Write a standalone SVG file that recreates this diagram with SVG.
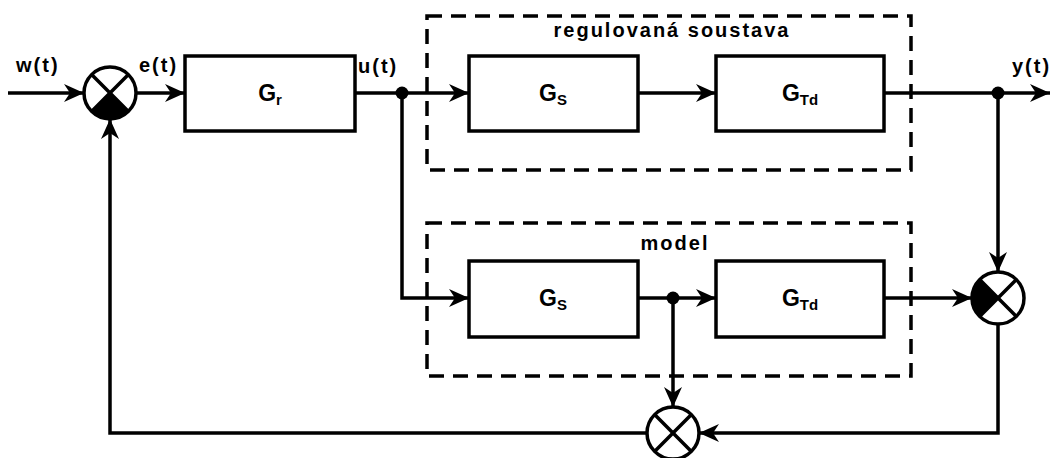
<svg xmlns="http://www.w3.org/2000/svg" width="1052" height="458" viewBox="0 0 1052 458">
<style>
.ln{fill:none;stroke:#000;stroke-width:3.5}
.blk{fill:#fff;stroke:#000;stroke-width:3.5}
.dash{fill:none;stroke:#000;stroke-width:3.5;stroke-dasharray:15 9}
.t{font-family:"Liberation Sans",Arial,sans-serif;font-weight:bold;font-size:20px;letter-spacing:2px;fill:#000}
.g{font-family:"Liberation Sans",Arial,sans-serif;font-weight:bold;font-size:23px;fill:#000;text-anchor:middle}
.sub{font-size:15px}
.dot{fill:#000}
</style>
<defs>
<marker id="ar" markerWidth="22" markerHeight="20" refX="20" refY="9" orient="auto" markerUnits="userSpaceOnUse">
<path d="M0,0 L20,9 L0,18 L6,9 Z" fill="#000"/>
</marker>
</defs>
<g id="group-top">
<rect class="dash" x="427" y="16" width="484" height="154"/>
<text class="t" x="672" y="37" text-anchor="middle">regulovaná soustava</text>
</g>
<g id="group-model">
<rect class="dash" x="427" y="223" width="484" height="153"/>
<text class="t" x="675" y="250" text-anchor="middle">model</text>
</g>
<g id="connectors">
<path class="ln" d="M8,93 H84" marker-end="url(#ar)"/>
<path class="ln" d="M136,93 H185" marker-end="url(#ar)"/>
<path class="ln" d="M355,93 H469" marker-end="url(#ar)"/>
<path class="ln" d="M638,93 H716" marker-end="url(#ar)"/>
<path class="ln" d="M884,93 H1050" marker-end="url(#ar)"/>
<path class="ln" d="M998,93 V272" marker-end="url(#ar)"/>
<path class="ln" d="M402,93 V298 H469" marker-end="url(#ar)"/>
<path class="ln" d="M638,298 H716" marker-end="url(#ar)"/>
<path class="ln" d="M884,298 H972" marker-end="url(#ar)"/>
<path class="ln" d="M673,298 V407" marker-end="url(#ar)"/>
<path class="ln" d="M998,324 V433 H699" marker-end="url(#ar)"/>
<path class="ln" d="M647,433 H110 V119" marker-end="url(#ar)"/>
<circle class="dot" cx="402" cy="93" r="6.5"/>
<circle class="dot" cx="998" cy="93" r="6.5"/>
<circle class="dot" cx="673" cy="298" r="6.5"/>
</g>
<g id="sum1">
<circle class="blk" cx="110" cy="93" r="26"/>
<path d="M110,93 L91.6,111.4 A26,26 0 0 0 128.4,111.4 Z" fill="#000"/>
<path class="ln" d="M91.6,74.6 L128.4,111.4 M128.4,74.6 L91.6,111.4"/>
</g>
<g id="sum2">
<circle class="blk" cx="998" cy="298" r="26"/>
<path d="M998,298 L979.6,279.6 A26,26 0 0 0 979.6,316.4 Z" fill="#000"/>
<path class="ln" d="M979.6,279.6 L1016.4,316.4 M1016.4,279.6 L979.6,316.4"/>
</g>
<g id="sum3">
<circle class="blk" cx="673" cy="433" r="26"/>
<path class="ln" d="M654.6,414.6 L691.4,451.4 M691.4,414.6 L654.6,451.4"/>
</g>
<g id="Gr">
<rect class="blk" x="185" y="56" width="170" height="75"/>
<text class="g" x="270" y="101">G<tspan class="sub" dy="4">r</tspan></text>
</g>
<g id="Gs1">
<rect class="blk" x="469" y="56" width="169" height="75"/>
<text class="g" x="553" y="101">G<tspan class="sub" dy="4">S</tspan></text>
</g>
<g id="GTd1">
<rect class="blk" x="716" y="56" width="168" height="75"/>
<text class="g" x="800" y="101">G<tspan class="sub" dy="4">Td</tspan></text>
</g>
<g id="Gs2">
<rect class="blk" x="469" y="261" width="169" height="76"/>
<text class="g" x="553" y="306">G<tspan class="sub" dy="4">S</tspan></text>
</g>
<g id="GTd2">
<rect class="blk" x="716" y="261" width="168" height="76"/>
<text class="g" x="800" y="306">G<tspan class="sub" dy="4">Td</tspan></text>
</g>
<g id="labels">
<text class="t" x="16" y="72">w(t)</text>
<text class="t" x="139" y="72">e(t)</text>
<text class="t" x="358" y="73">u(t)</text>
<text class="t" x="1012" y="73">y(t)</text>
</g>
</svg>
